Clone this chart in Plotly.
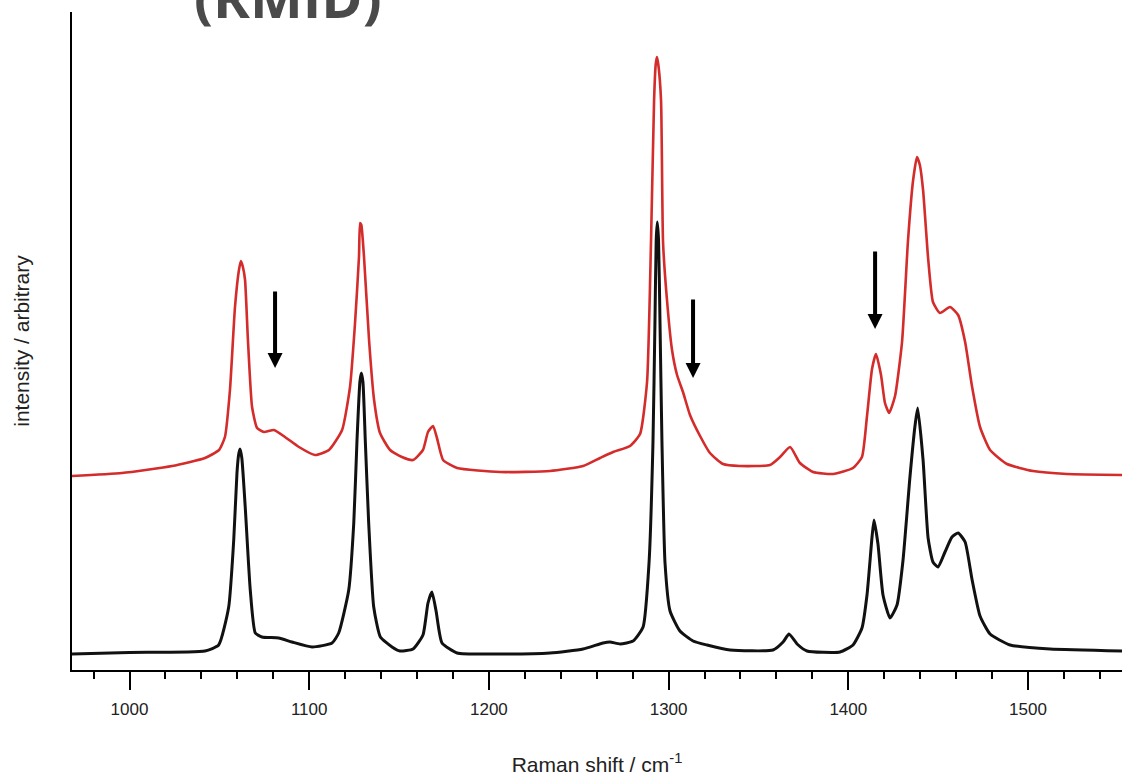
import plotly.graph_objects as go

# Raman shift (cm^-1) and intensity (arbitrary units)
wn_black = [968.0, 1000.0, 1042.0, 1049.6, 1055.2, 1058.0, 1059.8, 1060.7, 1061.5, 1062.5, 1064.4, 1067.2,
            1070.0, 1073.7, 1083.0, 1090.4, 1101.6, 1112.7, 1116.4, 1122.0, 1124.8, 1126.6, 1128.2,
            1129.0, 1129.9, 1131.2, 1133.1, 1135.9, 1139.6, 1146.1, 1150.5, 1157.8, 1163.3, 1166.1,
            1168.3, 1170.6, 1173.9, 1182.3, 1206.2, 1234.0, 1252.4, 1263.5, 1267.4, 1273.0, 1280.2,
            1285.8, 1289.1, 1291.3, 1292.4, 1293.1, 1293.7, 1294.4, 1295.2, 1296.3, 1298.0, 1300.8,
            1306.3, 1313.6, 1321.4, 1334.2, 1358.1, 1363.7, 1367.0, 1371.5, 1377.0, 1395.4, 1402.6,
            1407.6, 1410.4, 1413.2, 1414.3, 1416.5, 1419.3, 1423.2, 1427.1, 1430.4, 1434.3, 1437.1,
            1438.6, 1441.6, 1444.4, 1447.1, 1449.9, 1453.8, 1457.7, 1461.1, 1465.0, 1468.8, 1473.3,
            1478.9, 1490.0, 1512.3, 1552.3]
int_black = [0.16, 0.175, 0.19, 0.25, 0.63, 1.30, 1.97, 2.15, 2.21, 2.12, 1.63, 0.80,
             0.37, 0.33, 0.32, 0.28, 0.23, 0.27, 0.37, 0.80, 1.47, 2.30, 2.88,
             2.97, 2.88, 2.30, 1.47, 0.63, 0.33, 0.23, 0.19, 0.21, 0.35, 0.67,
             0.78, 0.59, 0.27, 0.17, 0.16, 0.17, 0.21, 0.27, 0.28, 0.26, 0.29,
             0.43, 1.07, 2.28, 3.48, 4.30, 4.48, 4.30, 3.48, 2.28, 1.07, 0.59,
             0.39, 0.29, 0.25, 0.20, 0.20, 0.28, 0.36, 0.26, 0.19, 0.18, 0.25,
             0.42, 0.75, 1.33, 1.50, 1.26, 0.75, 0.52, 0.65, 1.09, 1.93, 2.44,
             2.62, 2.10, 1.32, 1.08, 1.03, 1.18, 1.33, 1.37, 1.28, 0.91, 0.54,
             0.36, 0.25, 0.21, 0.19]

wn_red = [968.0, 995.8, 1023.7, 1042.0, 1049.8, 1053.1, 1055.9, 1058.7, 1060.9, 1062.0, 1063.1, 1064.3,
          1065.9, 1068.2, 1071.0, 1074.8, 1080.4, 1086.5, 1094.3, 1103.2, 1111.0, 1118.3, 1122.7,
          1125.5, 1127.7, 1128.3, 1129.0, 1130.5, 1133.3, 1136.1, 1139.4, 1145.0, 1151.6, 1157.8,
          1163.3, 1166.1, 1168.9, 1171.1, 1174.5, 1182.3, 1206.2, 1234.0, 1252.4, 1261.8, 1269.1,
          1278.5, 1284.1, 1288.0, 1290.2, 1291.9, 1292.8, 1293.5, 1294.3, 1295.8, 1296.9, 1299.1,
          1301.9, 1304.7, 1308.0, 1311.9, 1317.5, 1323.0, 1330.3, 1339.7, 1356.4, 1362.0, 1367.6,
          1373.1, 1380.4, 1391.5, 1402.6, 1407.6, 1410.4, 1413.2, 1415.4, 1418.2, 1420.4, 1422.7,
          1426.0, 1429.9, 1433.2, 1436.0, 1438.2, 1439.8, 1441.6, 1444.4, 1447.1, 1451.0, 1456.6,
          1461.1, 1465.0, 1468.8, 1473.3, 1478.9, 1488.3, 1502.8, 1521.7, 1552.3]
int_red = [1.94, 1.97, 2.04, 2.12, 2.20, 2.33, 2.80, 3.63, 4.00, 4.09, 4.03, 3.90,
           3.30, 2.63, 2.42, 2.38, 2.40, 2.33, 2.23, 2.15, 2.20, 2.40, 2.83,
           3.47, 4.13, 4.47, 4.45, 4.13, 3.30, 2.70, 2.37, 2.20, 2.13, 2.10,
           2.20, 2.38, 2.44, 2.32, 2.10, 2.02, 1.98, 1.99, 2.04, 2.12, 2.18,
           2.24, 2.36, 2.88, 4.28, 5.69, 6.05, 6.13, 6.05, 5.69, 4.28, 3.70,
           3.20, 2.95, 2.78, 2.55, 2.34, 2.17, 2.06, 2.04, 2.05, 2.13, 2.23,
           2.07, 1.98, 1.96, 2.02, 2.13, 2.54, 3.01, 3.16, 2.95, 2.67, 2.57,
           2.74, 3.28, 4.29, 4.89, 5.13, 5.05, 4.80, 4.12, 3.68, 3.57, 3.63,
           3.55, 3.28, 2.84, 2.43, 2.20, 2.06, 1.99, 1.96, 1.95]

# arrows marking new bands in the red spectrum
arrow_wn = [1081.0, 1313.6, 1414.9]
arrow_tip = [3.02, 2.92, 3.41]
arrow_tail = [3.80, 3.72, 4.20]

x_range = [968.0, 1552.3]
y_range = [0.0, 6.58]

fig = go.Figure()
fig.add_trace(go.Scatter(x=wn_black, y=int_black, mode="lines",
                         line=dict(color="#111111", width=3, shape="spline", smoothing=0.5),
                         hoverinfo="skip"))
fig.add_trace(go.Scatter(x=wn_red, y=int_red, mode="lines",
                         line=dict(color="#d42b2b", width=2.6, shape="spline", smoothing=0.5),
                         hoverinfo="skip"))

for xw, yt, ya in zip(arrow_wn, arrow_tip, arrow_tail):
    fig.add_annotation(x=xw, y=yt, ax=xw, ay=ya, xref="x", yref="y", axref="x", ayref="y",
                       text="", showarrow=True, arrowhead=2, arrowsize=0.75, arrowwidth=4,
                       arrowcolor="#000000", standoff=0)

fig.add_annotation(text="<b>(RMID)</b>", xref="paper", yref="paper", x=0.114, y=1.0,
                   xanchor="left", yanchor="bottom", yshift=-24, showarrow=False,
                   font=dict(family="Open Sans", size=56, color="#4a4a4a"))

fig.update_layout(
    width=1122, height=776,
    margin=dict(l=72, r=0, t=12, b=106, autoexpand=False),
    paper_bgcolor="white", plot_bgcolor="white",
    showlegend=False,
    font=dict(family="Liberation Sans, Arial, sans-serif", color="#222222"),
)
fig.update_xaxes(
    range=x_range, showgrid=False, zeroline=False,
    showline=True, linecolor="black", linewidth=2,
    ticks="outside", tick0=1000, dtick=100, ticklen=18, tickwidth=2, tickcolor="black",
    tickfont=dict(size=17, color="#222222"), ticklabelstandoff=5,
    minor=dict(dtick=20, tick0=1000, ticks="outside", ticklen=7, tickwidth=2, tickcolor="black"),
    title=dict(text="Raman shift / cm<sup>-1</sup>", font=dict(size=21, color="#222222"), standoff=44),
)
fig.update_yaxes(
    range=y_range, showgrid=False, zeroline=False, showticklabels=False,
    showline=True, linecolor="black", linewidth=2, ticks="",
    title=dict(text="intensity / arbitrary", font=dict(size=21, color="#222222"), standoff=35),
)

fig.write_html("out.html", config={"displayModeBar": False},
               post_script="document.body.style.margin='0px';document.body.style.overflow='hidden';")
